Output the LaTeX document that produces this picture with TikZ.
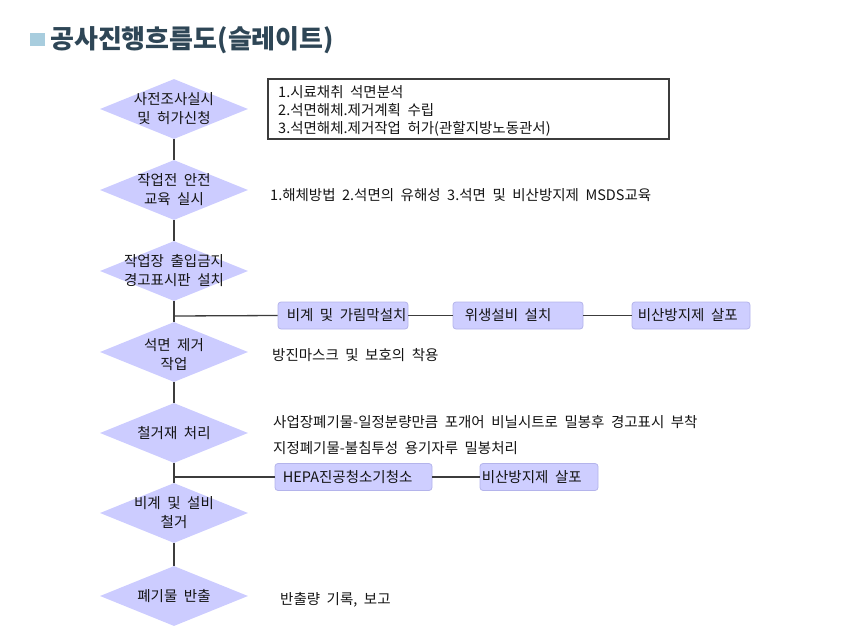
\documentclass[tikz,border=0pt]{standalone}
\usepackage{fontspec}
\setmainfont{Noto Sans CJK KR}[WordSpace=2.0]
\usetikzlibrary{shapes.geometric}
\definecolor{diafill}{RGB}{204,204,255}
\definecolor{boxfill}{RGB}{206,206,255}
\definecolor{boxedge}{RGB}{180,180,235}
\definecolor{txt}{RGB}{20,20,20}
\definecolor{linec}{RGB}{60,60,60}
\definecolor{titlec}{RGB}{46,70,86}
\definecolor{sq}{RGB}{168,205,222}
\begin{document}
\begin{tikzpicture}[x=1pt,y=-1pt,
  diam/.style={shape=diamond, fill=diafill, draw=none, minimum width=148pt, minimum height=60pt, inner sep=0pt},
  dtext/.style={font=\fontsize{14.5}{19}\selectfont, align=center, text=txt, inner sep=0pt},
  pbox/.style={rectangle, rounded corners=3pt, fill=boxfill, draw=boxedge, line width=0.8pt, minimum height=27pt, inner sep=0pt},
  btext/.style={font=\fontsize{14.5}{18}\selectfont, text=txt, inner sep=0pt, anchor=west},
  conn/.style={draw=linec, line width=1.3pt},
  note/.style={font=\fontsize{14.5}{18}\selectfont, text=txt, inner sep=0pt, anchor=west, align=left}
]
\useasboundingbox (0,0) rectangle (857,637);
% title
\fill[sq] (30,33) rectangle (45,46);
\node[anchor=west, inner sep=0pt, text=titlec, font=\fontsize{26}{30}\selectfont\bfseries] (title) at (50,40) {공사진행흐름도(슬레이트)};
% diamonds
\node[diam] (d1) at (174,109) {};
\node[dtext] at (d1) {사전조사실시\\및 허가신청};
\node[diam] (d2) at (174,190) {};
\node[dtext] at (d2) {작업전 안전\\교육 실시};
\node[diam] (d3) at (174,271) {};
\node[dtext] at (d3) {작업장 출입금지\\경고표시판 설치};
\node[diam] (d4) at (174,352) {};
\node[dtext] at ([yshift=-3pt]d4.center) {석면 제거\\작업};
\node[diam] (d5) at (174,433) {};
\node[dtext] at (d5) {철거재 처리};
\node[diam] (d6) at (174,513) {};
\node[dtext] at (d6) {비계 및 설비\\철거};
\node[diam] (d7) at (174,596) {};
\node[dtext] at (d7) {폐기물 반출};
% vertical connectors
\draw[conn] (d1.south) -- (d2.north);
\draw[conn] (d2.south) -- (d3.north);
\draw[conn] (d3.south) -- (d4.north);
\draw[conn] (d4.south) -- (d5.north);
\draw[conn] (d5.south) -- (d6.north);
\draw[conn] (d6.south) -- (d7.north);
% boxes row 1
\coordinate (j1) at (174,316);
\node[pbox, minimum width=130pt] (b1) at (343,315.5) {};
\node[btext] at ([xshift=9pt]b1.west) {비계 및 가림막설치};
\node[pbox, minimum width=130pt] (b2) at (518,315.5) {};
\node[btext] at ([xshift=12pt]b2.west) {위생설비 설치};
\node[pbox, minimum width=118pt] (b3) at (691,315.5) {};
\node[btext] at ([xshift=6pt]b3.west) {비산방지제 살포};
\draw[conn] (j1) -- (b1.west);
\draw[conn] (b1.east) -- (b2.west);
\draw[conn] (b2.east) -- (b3.west);
% boxes row 2
\coordinate (j2) at (174,477);
\node[pbox, minimum width=157pt] (b4) at (353.5,477) {};
\node[btext] at ([xshift=8pt]b4.west) {HEPA진공청소기청소};
\node[pbox, minimum width=118pt] (b5) at (539,477) {};
\node[btext] at ([xshift=2pt]b5.west) {비산방지제 살포};
\draw[conn] (j2) -- (b4.west);
\draw[conn] (b4.east) -- (b5.west);
% info box
\node[rectangle, draw=linec, line width=1.1pt, minimum width=401pt, minimum height=60pt, inner sep=0pt] (tb) at (468.5,109) {};
\node[note] at (278,111) {1.시료채취 석면분석\\2.석면해체.제거계획 수립\\3.석면해체.제거작업 허가(관할지방노동관서)};
% notes
\node[note] (n2) at (270,195) {1.해체방법 2.석면의 유해성 3.석면 및 비산방지제 MSDS교육};
\node[note] (n4) at (272,355) {방진마스크 및 보호의 착용};
\node[note] (n5a) at (273,422) {사업장폐기물-일정분량만큼 포개어 비닐시트로 밀봉후 경고표시 부착};
\node[note] (n5b) at (273,448) {지정폐기물-불침투성 용기자루 밀봉처리};
\node[note] (n7) at (280,600) {반출량 기록, 보고};
\end{tikzpicture}
\end{document}
